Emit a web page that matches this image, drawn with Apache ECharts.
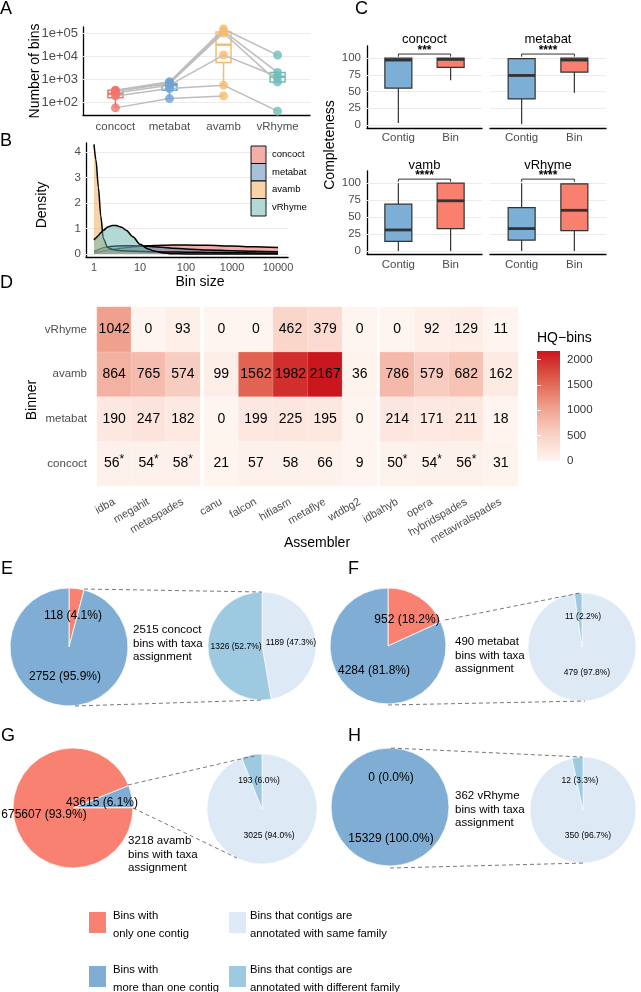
<!DOCTYPE html>
<html><head><meta charset="utf-8">
<script src="https://cdn.jsdelivr.net/npm/echarts@6.0.0/dist/echarts.min.js"></script>
<style>html,body{margin:0;padding:0;background:#fff;}#chart{width:641px;height:992px;}</style>
</head><body><div id="chart"></div>
<script>
// ================= DATA =================
const binners = ['concoct', 'metabat', 'avamb', 'vRhyme'];

// Panel A: number of bins per sample (concoct, metabat, avamb, vRhyme)
const binsSample1 = [333, 763, 148000, 11000];
const binsSample2 = [320, 700, 120000, 1950];
const binsSample3 = [300, 650, 100000, 760];
const binsSample4 = [254, 550, 11000, 1260];
const binsSample5 = [188, 390, 550, 41];
const binsSample6 = [57, 144, 188, null];
// box stats [low, q1, median, q3, high]
const binsBoxConcoct = [57, 155, 235, 333, 333];
const binsBoxMetabat = [144, 330, 550, 640, 763];
const binsBoxAvamb = [550, 5200, 31000, 110000, 155000];
const binsBoxVRhyme = [760, 760, 1260, 1950, 1950];
const binsTicks = [100, 1000, 10000, 100000];

// Panel B: density of bin size
const sizeX = [1, 1.1, 1.25, 1.4, 1.6, 2, 2.5, 3, 4, 5, 7, 10, 15, 20, 30, 50, 100, 300, 1000, 3000, 10000];
const densConcoct = [0.05, 0.06, 0.08, 0.10, 0.12, 0.15, 0.18, 0.20, 0.23, 0.25, 0.28, 0.30, 0.32, 0.33, 0.34, 0.35, 0.35, 0.34, 0.31, 0.28, 0.25];
const densMetabat = [0.10, 0.13, 0.17, 0.21, 0.25, 0.28, 0.30, 0.31, 0.32, 0.32, 0.32, 0.31, 0.30, 0.28, 0.26, 0.23, 0.20, 0.16, 0.13, 0.11, 0.09];
const densAvamb = [4.30, 3.70, 2.60, 1.50, 0.60, 0.25, 0.18, 0.15, 0.13, 0.12, 0.11, 0.10, 0.09, 0.09, 0.08, 0.08, 0.07, 0.06, 0.05, 0.04, 0.03];
const densVRhyme = [0.55, 0.63, 0.73, 0.83, 0.93, 1.06, 1.12, 1.12, 1.05, 0.93, 0.68, 0.38, 0.20, 0.12, 0.05, 0.01, 0, 0, 0, 0, 0];
const densTicks = [0, 1, 2, 3, 4];
const sizeTicks = [1, 10, 100, 1000, 10000];

// Panel C: completeness box stats [low, q1, median, q3, high] for Contig / Bin
const complGroups = ['Contig', 'Bin'];
const complFacets = ['concoct', 'metabat', 'vamb', 'vRhyme'];
const complConcoct = [[3, 55, 97, 100, 100], [67, 86, 98, 100, 100]];
const complMetabat = [[1, 39, 74, 99, 99], [48, 79, 97, 100, 100]];
const complVamb = [[0, 14, 31, 69, 100], [0, 33, 74, 100, 100]];
const complVRhyme = [[0, 16, 33, 64, 100], [0, 30, 60, 99, 99]];
const complSig = ['***', '****', '****', '****'];
const complTicks = [0, 25, 50, 75, 100];

// Panel D: HQ bins heatmap
const assemblers = ['idba', 'megahit', 'metaspades', 'canu', 'falcon', 'hifiasm', 'metaflye', 'wtdbg2', 'idbahyb', 'opera', 'hybridspades', 'metaviralspades'];
const assemblerGroupSizes = [3, 5, 4];
const hqRows = ['concoct', 'metabat', 'avamb', 'vRhyme'];
const hqConcoct = [56, 54, 58, 21, 57, 58, 66, 9, 50, 54, 56, 31];
const hqMetabat = [190, 247, 182, 0, 199, 225, 195, 0, 214, 171, 211, 18];
const hqAvamb = [864, 765, 574, 99, 1562, 1982, 2167, 36, 786, 579, 682, 162];
const hqVRhyme = [1042, 0, 93, 0, 0, 462, 379, 0, 0, 92, 129, 11];
const hqConcoctStar = [1, 1, 1, 0, 0, 0, 0, 0, 1, 1, 1, 0];
const hqTicks = [0, 500, 1000, 1500, 2000];

// Panels E-H: pies
const pieBinners = ['concoct', 'metabat', 'avamb', 'vRhyme'];
const singleContigBins = [118, 952, 675607, 0];
const multiContigBins = [2752, 4284, 43615, 15329];
const taxaBins = [2515, 490, 3218, 362];
const sameFamilyBins = [1189, 479, 3025, 350];
const diffFamilyBins = [1326, 11, 193, 12];
const legendNames = ['Bins with\nonly one contig', 'Bins with\nmore than one contig', 'Bins that contigs are\nannotated with same family', 'Bins that contigs are\nannotated with different family'];

// ================= STYLE / LAYOUT =================
const FONT = "'Liberation Sans', Arial, Helvetica, sans-serif";
const GRAY = '#4D4D4D';
const GRIDC = '#EBEBEB';
const colA = ['#F0766B', '#6FA3D2', '#F8BB6B', '#6FBDB9'];
const fillB = ['#E95D53', '#4D83B1', '#F3A751', '#65B3AD'];
const legB = ['#F4AEA9', '#A6C1D8', '#F9D3A8', '#B2D9D6'];
const colContig = '#7BAFD6', colBin = '#F9806F';
const heatColors = ['#FFF5F0', '#F9D0C4', '#EF9D8A', '#DE5C4A', '#CA171E'];
const pieCols = { single: '#F98172', multi: '#7FADD3', same: '#DDE9F5', diff: '#9ECAE1' };

const grids = [], xAxes = [], yAxes = [], series = [], gfx = [];

function addGrid(g) { grids.push(Object.assign({ outerBoundsMode: 'none', containLabel: false }, g)); return grids.length - 1; }
function aLine(show) { return { show: show, onZero: false, lineStyle: { color: '#000', width: 1.3 } }; }
function gridSeries(xi, yi, vals) {
  return { type: 'line', xAxisIndex: xi, yAxisIndex: yi, data: [], symbol: 'none', silent: true, z: 1,
    markLine: { silent: true, z: 1, symbol: ['none', 'none'], label: { show: false }, animation: false,
      lineStyle: { color: GRIDC, width: 1, type: 'solid' }, emphasis: { disabled: true },
      data: vals.map(v => ({ yAxis: v })) } };
}
function txt(x, y, text, o) {
  o = o || {};
  return { type: 'text', x: x, y: y, rotation: o.rot || 0, silent: true, z: 100,
    style: { text: text, font: (o.weight || 'normal') + ' ' + (o.size || 12) + 'px ' + FONT, fill: o.color || '#000',
      align: o.align || 'center', verticalAlign: o.va || 'middle', lineHeight: o.lh } };
}
function boxRenderer(styleFn) {
  return function (params, api) {
    const st = styleFn(params.dataIndex);
    const x = api.value(0);
    const lo = api.coord([x, api.value(1)]), q1 = api.coord([x, api.value(2)]), md = api.coord([x, api.value(3)]),
      q3 = api.coord([x, api.value(4)]), hi = api.coord([x, api.value(5)]);
    const cx = lo[0], hw = st.w / 2;
    return { type: 'group', children: [
      { type: 'line', shape: { x1: cx, y1: hi[1], x2: cx, y2: q3[1] }, style: { stroke: st.stroke, lineWidth: st.lw } },
      { type: 'line', shape: { x1: cx, y1: q1[1], x2: cx, y2: lo[1] }, style: { stroke: st.stroke, lineWidth: st.lw } },
      { type: 'rect', shape: { x: cx - hw, y: q3[1], width: st.w, height: q1[1] - q3[1] }, style: { fill: st.fill, stroke: st.stroke, lineWidth: st.lw } },
      { type: 'line', shape: { x1: cx - hw, y1: md[1], x2: cx + hw, y2: md[1] }, style: { stroke: st.stroke, lineWidth: st.mw } }
    ] };
  };
}

// ---------- Panel A ----------
const binsSamples = [binsSample1, binsSample2, binsSample3, binsSample4, binsSample5, binsSample6];
const binsBoxes = [binsBoxConcoct, binsBoxMetabat, binsBoxAvamb, binsBoxVRhyme];
{
  const gi = addGrid({ left: 83, top: 27, width: 227, height: 88 });
  xAxes.push({ type: 'value', gridIndex: gi, min: -0.6, max: 3.6, axisLine: aLine(true), axisTick: { show: false }, splitLine: { show: false },
    axisLabel: { customValues: [0, 1, 2, 3], formatter: v => binners[Math.round(v)], color: GRAY, fontSize: 11.5, fontFamily: FONT, margin: 6 } });
  yAxes.push({ type: 'log', gridIndex: gi, min: 28, max: 181000, axisLine: aLine(true), axisTick: { show: false }, splitLine: { show: false },
    axisLabel: { customValues: binsTicks, formatter: v => '1e+0' + Math.round(Math.log10(v)), color: GRAY, fontSize: 13, fontFamily: FONT, margin: 5 } });
  const xi = xAxes.length - 1, yi = yAxes.length - 1;
  series.push(gridSeries(xi, yi, binsTicks));
  series.push({ type: 'custom', xAxisIndex: xi, yAxisIndex: yi, z: 2, silent: true,
    data: binsBoxes.map((b, i) => [i].concat(b)), encode: { x: 0, y: [1, 2, 3, 4, 5] },
    renderItem: boxRenderer(i => ({ stroke: colA[i], fill: 'rgba(255,255,255,0)', w: 15, lw: 1.5, mw: 2.4 })) });
  binsSamples.forEach(s => series.push({ type: 'line', xAxisIndex: xi, yAxisIndex: yi, z: 3, symbol: 'none', silent: true,
    data: s.map((v, i) => v == null ? null : [i, v]).filter(d => d), lineStyle: { color: '#BDBDBD', width: 1.5 } }));
  binners.forEach((b, i) => series.push({ type: 'scatter', xAxisIndex: xi, yAxisIndex: yi, z: 4, symbolSize: 9, silent: true,
    data: binsSamples.filter(s => s[i] != null).map(s => [i, s[i]]), itemStyle: { color: colA[i], opacity: 0.8 } }));
}

// ---------- Panel B ----------
const densAll = [densConcoct, densMetabat, densAvamb, densVRhyme];
{
  const gi = addGrid({ left: 86, top: 143, width: 202, height: 114 });
  xAxes.push({ type: 'log', gridIndex: gi, min: 0.67, max: 16480, axisLine: aLine(true), axisTick: { show: false }, splitLine: { show: false },
    axisLabel: { customValues: sizeTicks, formatter: v => String(Math.round(v)), color: GRAY, fontSize: 11, fontFamily: FONT, margin: 5 } });
  yAxes.push({ type: 'value', gridIndex: gi, min: -0.118, max: 4.353, axisLine: aLine(true), axisTick: { show: false }, splitLine: { show: false },
    axisLabel: { customValues: densTicks, color: GRAY, fontSize: 11.5, fontFamily: FONT, margin: 5 } });
  const xi = xAxes.length - 1, yi = yAxes.length - 1;
  series.push(gridSeries(xi, yi, densTicks));
  densAll.forEach((d, i) => series.push({ type: 'line', xAxisIndex: xi, yAxisIndex: yi, z: 2 + i, smooth: 0.3, smoothMonotone: 'x',
    symbol: 'none', silent: true, data: sizeX.map((x, k) => [x, d[k]]),
    lineStyle: { color: '#000', width: 1.5 }, areaStyle: { color: fillB[i], opacity: 0.5 } }));
  binners.forEach((b, i) => {
    gfx.push({ type: 'rect', shape: { x: 251, y: 146 + i * 17.5, width: 15, height: 17.5 }, style: { fill: legB[i], stroke: '#000', lineWidth: 0.9 }, silent: true, z: 100 });
    gfx.push(txt(272, 146 + i * 17.5 + 8.75, b, { size: 9.5, align: 'left' }));
  });
}

// ---------- Panel C ----------
const complData = [complConcoct, complMetabat, complVamb, complVRhyme];
const cGrids = [[367, 46, 115, 82], [490, 46, 116, 82], [367, 171, 115, 83], [490, 171, 116, 83]];
cGrids.forEach((g, f) => {
  const gi = addGrid({ left: g[0], top: g[1], width: g[2], height: g[3] });
  const isLeft = f % 2 === 0;
  xAxes.push({ type: 'value', gridIndex: gi, min: -0.6, max: 1.6, axisLine: aLine(true), axisTick: { show: false }, splitLine: { show: false },
    axisLabel: { customValues: [0, 1], formatter: v => complGroups[Math.round(v)], color: GRAY, fontSize: 11.5, fontFamily: FONT, margin: f < 2 ? 4 : 5 } });
  yAxes.push({ type: 'value', gridIndex: gi, min: -4.5, max: 118, axisLine: aLine(isLeft), axisTick: { show: false }, splitLine: { show: false },
    axisLabel: { show: isLeft, customValues: complTicks, color: GRAY, fontSize: 11.5, fontFamily: FONT, margin: 6 } });
  const xi = xAxes.length - 1, yi = yAxes.length - 1;
  series.push(gridSeries(xi, yi, complTicks));
  series.push({ type: 'custom', xAxisIndex: xi, yAxisIndex: yi, z: 2, silent: true,
    data: complData[f].map((b, i) => [i].concat(b)), encode: { x: 0, y: [1, 2, 3, 4, 5] },
    renderItem: boxRenderer(i => ({ stroke: '#333', fill: i === 0 ? colContig : colBin, w: 27, lw: 1.2, mw: 2.8 })) });
  series.push({ type: 'custom', xAxisIndex: xi, yAxisIndex: yi, z: 5, silent: true, data: [[0, 106]], encode: { x: 0, y: 1 },
    renderItem: (p, api) => {
      const a = api.coord([0, 106]), b = api.coord([1, 106]), t = api.coord([0, 102]);
      return { type: 'group', children: [
        { type: 'polyline', shape: { points: [[a[0], t[1]], [a[0], a[1]], [b[0], a[1]], [b[0], t[1]]] }, style: { stroke: '#000', fill: null, lineWidth: 0.8 } },
        { type: 'text', style: { text: complSig[f], x: (a[0] + b[0]) / 2, y: a[1] + 3, align: 'center', verticalAlign: 'bottom', font: 'bold 12px ' + FONT, fill: '#000' } }
      ] };
    } });
  gfx.push(txt(g[0] + g[2] / 2, f < 2 ? 39 : 165, complFacets[f], { size: 13 }));
});

// ---------- Panel D ----------
const hqValues = [hqConcoct, hqMetabat, hqAvamb, hqVRhyme];
const dGrids = [[97, 103], [204, 173], [380, 138]];
const heatIdx = [];
{
  let start = 0;
  assemblerGroupSizes.forEach((n, k) => {
    const s = start;
    const gi = addGrid({ left: dGrids[k][0], top: 307, width: dGrids[k][1], height: 179 });
    xAxes.push({ type: 'category', gridIndex: gi, data: assemblers.slice(s, s + n), axisLine: { show: false }, axisTick: { show: false }, splitLine: { show: false },
      axisLabel: { rotate: 30, interval: 0, color: GRAY, fontSize: 11, fontFamily: FONT, margin: 15 } });
    yAxes.push({ type: 'category', gridIndex: gi, data: hqRows, axisLine: { show: false }, axisTick: { show: false }, splitLine: { show: false },
      axisLabel: { show: k === 0, color: GRAY, fontSize: 11.5, fontFamily: FONT, margin: 10 } });
    const xi = xAxes.length - 1, yi = yAxes.length - 1;
    const data = [];
    hqRows.forEach((r, ri) => { for (let c = 0; c < n; c++) data.push([c, ri, hqValues[ri][s + c]]); });
    heatIdx.push(series.length);
    series.push({ type: 'heatmap', xAxisIndex: xi, yAxisIndex: yi, data: data, silent: true,
      itemStyle: { borderColor: 'rgba(255,255,255,0.35)', borderWidth: 0.5 },
      label: { show: true, color: '#000', fontSize: 14, fontFamily: FONT,
        formatter: p => (p.value[1] === 0 && hqConcoctStar[s + p.value[0]]) ? p.value[2] + '{s|*}' : String(p.value[2]),
        rich: { s: { fontSize: 12, fontFamily: FONT, color: '#000', padding: [0, 0, 7, 0] } } } });
    start += n;
  });
  // colour bar
  const gi = addGrid({ left: 537, top: 351, width: 23, height: 110 });
  xAxes.push({ type: 'value', gridIndex: gi, min: 0, max: 1, show: false });
  yAxes.push({ type: 'value', gridIndex: gi, min: 0, max: 2167, position: 'right', z: 10, axisLine: { show: false }, splitLine: { show: false },
    axisTick: { show: true, inside: true, length: 4, customValues: hqTicks, lineStyle: { color: '#fff', width: 1 } },
    axisLabel: { customValues: hqTicks, formatter: v => String(v), color: '#333', fontSize: 11.5, fontFamily: FONT, margin: 7 } });
  const xi = xAxes.length - 1, yi = yAxes.length - 1;
  yAxes.push({ type: 'value', gridIndex: gi, min: 0, max: 2167, position: 'left', z: 10, axisLine: { show: false }, splitLine: { show: false },
    axisTick: { show: true, inside: true, length: 4, customValues: hqTicks, lineStyle: { color: '#fff', width: 1 } }, axisLabel: { show: false } });
  series.push({ type: 'custom', xAxisIndex: xi, yAxisIndex: yi, z: 1, silent: true, data: [[0, 0]], encode: { x: 0, y: 1 },
    renderItem: (p, api) => {
      const a = api.coord([0, 0]), b = api.coord([1, 2167]);
      return { type: 'rect', shape: { x: a[0], y: b[1], width: b[0] - a[0], height: a[1] - b[1] },
        style: { fill: new echarts.graphic.LinearGradient(0, 1, 0, 0, heatColors.map((c, i) => ({ offset: i / (heatColors.length - 1), color: c }))) } };
    } });
  gfx.push(txt(537, 338, 'HQ\u2212bins', { size: 14, align: 'left' }));
}

// ---------- Panels E-H ----------
const pieLayout = [
  { letter: 'E', L: [1, 569], big: [69, 647, 59], small: [262, 646, 54], start: 90, multiFirst: false,
    bigLab: [[73, 616], [65, 677]], smallLab: [[291, 643], [236, 647]], side: [133, 630], dash: [[84, 589, 262, 592], [75, 706, 264, 700]] },
  { letter: 'F', L: [348, 569], big: [388, 646, 58], small: [582, 647, 54], start: 90, multiFirst: false,
    bigLab: [[407, 620], [374, 671]], smallLab: [[587, 673], [583, 617]], side: [455, 642], dash: [[445, 620, 580, 593], [388, 705, 585, 701]] },
  { letter: 'G', L: [1, 736], big: [73, 808, 60], small: [262, 809, 55], start: 22, multiFirst: true,
    bigLab: [[44, 815], [102, 803]], smallLab: [[269, 836], [259, 781]], side: [128, 841], dash: [[128, 785, 258, 755], [133, 808, 237, 858]] },
  { letter: 'H', L: [348, 736], big: [390, 807, 59], small: [583, 810, 53], start: 90, multiFirst: false,
    bigLab: [[391, 778], [391, 839]], smallLab: [[588, 836], [580, 781]], side: [455, 796], dash: [[391, 748, 582, 757], [390, 868, 585, 863]] }
];
const pct = (v, t) => v + ' (' + (v / t * 100).toFixed(1) + '%)';
pieLayout.forEach((L, i) => {
  const s1 = { value: singleContigBins[i], itemStyle: { color: pieCols.single } };
  const m1 = { value: multiContigBins[i], itemStyle: { color: pieCols.multi } };
  series.push({ type: 'pie', center: [L.big[0], L.big[1]], radius: L.big[2], startAngle: L.start, clockwise: true, silent: true,
    label: { show: false }, labelLine: { show: false }, itemStyle: { borderColor: '#fff', borderWidth: 0.8 },
    data: L.multiFirst ? [m1, s1] : [s1, m1] });
  series.push({ type: 'pie', center: [L.small[0], L.small[1]], radius: L.small[2], startAngle: 90, clockwise: true, silent: true,
    label: { show: false }, labelLine: { show: false }, itemStyle: { borderColor: '#fff', borderWidth: 0.6 },
    data: [{ value: sameFamilyBins[i], itemStyle: { color: pieCols.same } }, { value: diffFamilyBins[i], itemStyle: { color: pieCols.diff } }] });
  const tb = singleContigBins[i] + multiContigBins[i];
  gfx.push(txt(L.bigLab[0][0], L.bigLab[0][1], pct(singleContigBins[i], tb), { size: 12 }));
  gfx.push(txt(L.bigLab[1][0], L.bigLab[1][1], pct(multiContigBins[i], tb), { size: 12 }));
  const ts = sameFamilyBins[i] + diffFamilyBins[i];
  gfx.push(txt(L.smallLab[0][0], L.smallLab[0][1], pct(sameFamilyBins[i], ts), { size: 8.5 }));
  gfx.push(txt(L.smallLab[1][0], L.smallLab[1][1], pct(diffFamilyBins[i], ts), { size: 8.5 }));
  gfx.push(txt(L.side[0], L.side[1] - 6.75, taxaBins[i] + ' ' + pieBinners[i] + '\nbins with taxa\nassignment', { size: 11.5, align: 'left', va: 'top', lh: 13.5 }));
  L.dash.forEach(d => gfx.push({ type: 'line', shape: { x1: d[0], y1: d[1], x2: d[2], y2: d[3] }, style: { stroke: '#555', lineWidth: 0.8, lineDash: [4, 3] }, silent: true, z: 90 }));
  gfx.push(txt(L.L[0], L.L[1], L.letter, { size: 18, align: 'left' }));
});

// bottom legend
const legCols = [pieCols.single, pieCols.multi, pieCols.same, pieCols.diff];
const legPos = [[89, 912], [89, 966], [229, 912], [229, 966]];
legendNames.forEach((n, i) => {
  gfx.push({ type: 'rect', shape: { x: legPos[i][0], y: legPos[i][1], width: 17, height: 21 }, style: { fill: legCols[i] }, silent: true, z: 100 });
  gfx.push(txt(legPos[i][0] + (i < 2 ? 24 : 21), legPos[i][1] - 4.5, n, { size: 11.3, align: 'left', va: 'top', lh: 17.5 }));
});

// panel letters and axis titles
[['A', 0, 9], ['B', 0, 141], ['C', 355, 9], ['D', 0, 283]].forEach(l => gfx.push(txt(l[1], l[2], l[0], { size: 18, align: 'left' })));
gfx.push(txt(35, 71, 'Number of bins', { size: 14, rot: Math.PI / 2 }));
gfx.push(txt(42, 205, 'Density', { size: 14, rot: Math.PI / 2 }));
gfx.push(txt(200, 282, 'Bin size', { size: 14 }));
gfx.push(txt(330, 145, 'Completeness', { size: 14, rot: Math.PI / 2 }));
gfx.push(txt(32, 400, 'Binner', { size: 14, rot: Math.PI / 2 }));
gfx.push(txt(317, 543, 'Assembler', { size: 14 }));

const chart = echarts.init(document.getElementById('chart'), null, { renderer: 'canvas', width: 641, height: 992 });
chart.setOption({
  animation: false,
  textStyle: { fontFamily: FONT },
  grid: grids,
  xAxis: xAxes,
  yAxis: yAxes,
  visualMap: [{ type: 'continuous', show: false, min: 0, max: 2167, dimension: 2, seriesIndex: heatIdx, inRange: { color: heatColors } }],
  series: series,
  graphic: { elements: gfx }
});
</script></body></html>
